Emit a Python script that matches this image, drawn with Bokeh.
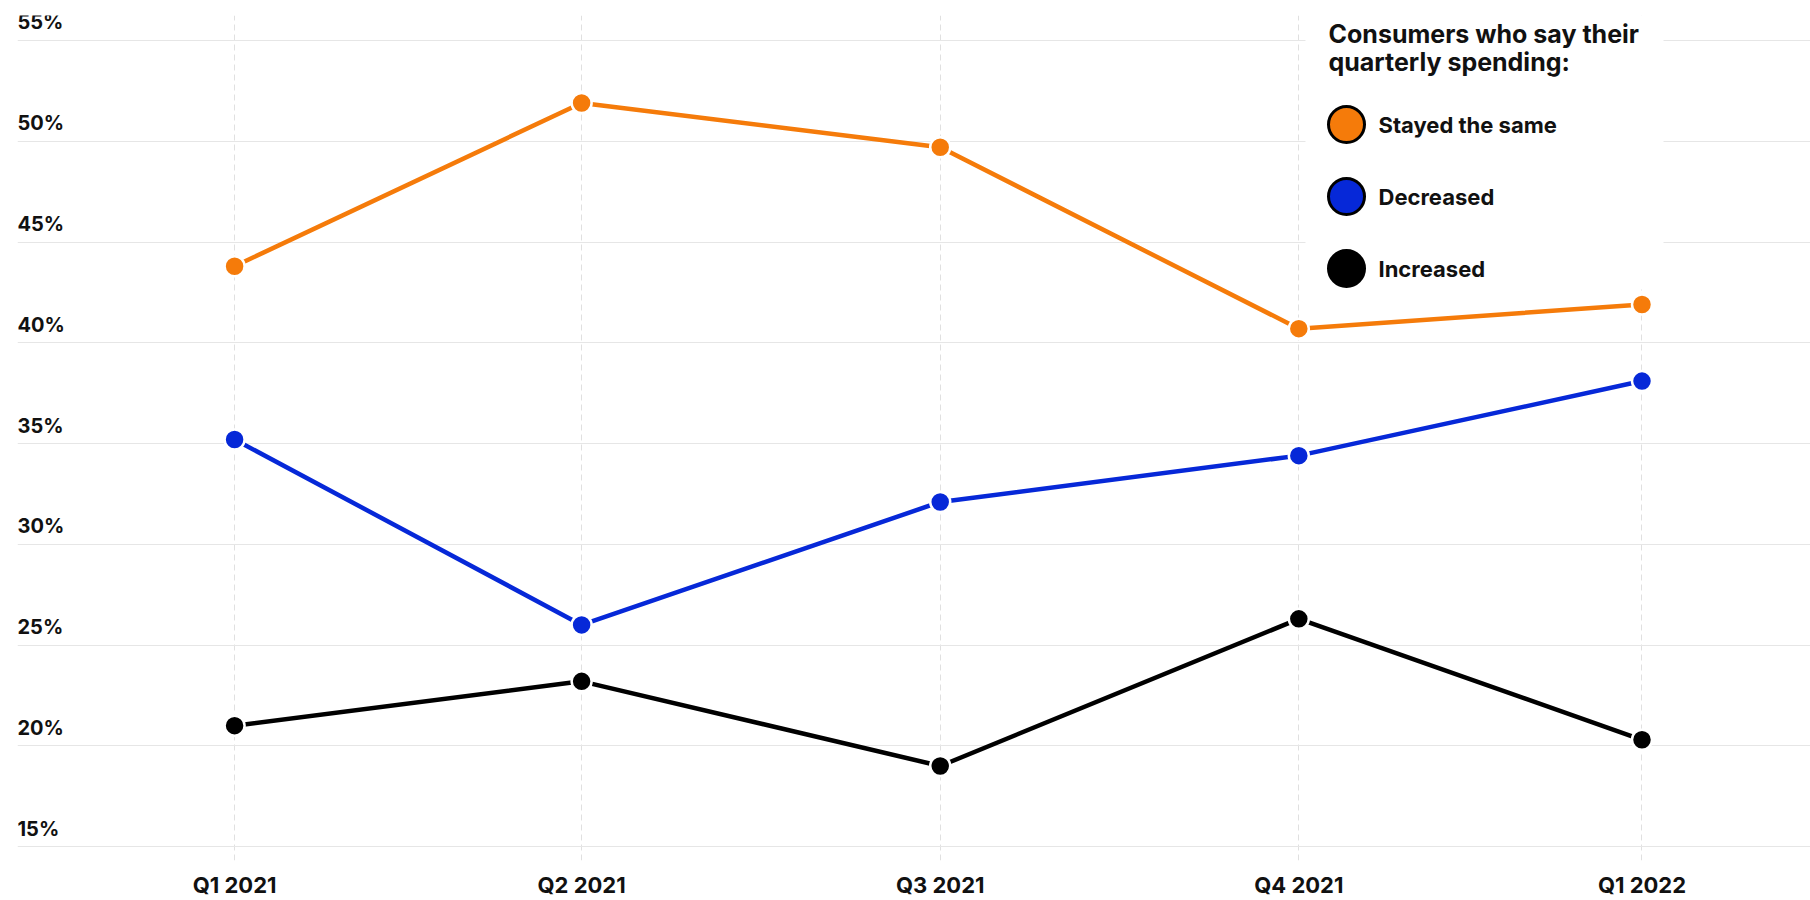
import math
import pandas as pd
from bokeh.plotting import figure
from bokeh.models import (ColumnDataSource, Range1d, FixedTicker, LabelSet, Label,
                          Legend, LegendItem, BoxAnnotation)
from bokeh.core.properties import value
from bokeh.embed import file_html
from bokeh.resources import INLINE

# ---------------- data ----------------
quarters = ["Q1 2021", "Q2 2021", "Q3 2021", "Q4 2021", "Q1 2022"]
survey_dates = ["2021-01-15", "2021-04-15", "2021-07-17", "2021-10-18", "2022-01-15"]
stayed_same = [43.8, 51.9, 49.7, 40.7, 41.9]
decreased = [35.2, 26.0, 32.1, 34.4, 38.1]
increased = [21.0, 23.2, 19.0, 26.3, 20.3]
y_ticks = [15, 20, 25, 30, 35, 40, 45, 50, 55]
series_names = ["Stayed the same", "Decreased", "Increased"]
series_colors = ["#F57B0A", "#0628D8", "#000000"]
legend_title = ["Consumers who say their", "quarterly spending:"]

FONT = "Inter"
TEXT = "#111111"
DAY = 86400000.0
x_ms = [float(v) for v in (pd.to_datetime(survey_dates).astype("int64") // 10**6)]

source = ColumnDataSource(dict(x=x_ms, stayed=stayed_same, decreased=decreased, increased=increased))
series_fields = ["stayed", "decreased", "increased"]

p = figure(width=1810, height=900, output_backend="svg", toolbar_location=None,
           x_range=Range1d(x_ms[0] - 56.3 * DAY, x_ms[-1] + 43.7 * DAY),
           y_range=Range1d(14.31, 56.24),
           min_border_left=17, min_border_right=0, min_border_top=15, min_border_bottom=39)
p.outline_line_color = None
p.background_fill_color = "white"
p.border_fill_color = "white"

# axes
p.yaxis.visible = False
p.xaxis.ticker = FixedTicker(ticks=x_ms)
p.xaxis.major_label_overrides = {x: q for x, q in zip(x_ms, quarters)}
p.xaxis.axis_line_color = None
p.xaxis.major_tick_line_color = None
p.xaxis.minor_tick_line_color = None
p.xaxis.major_label_standoff = 5
p.xaxis.major_label_text_font = FONT
p.xaxis.major_label_text_font_style = "bold"
p.xaxis.major_label_text_font_size = "22px"
p.xaxis.major_label_text_color = TEXT

# grids
p.ygrid.ticker = FixedTicker(ticks=y_ticks)
p.ygrid.grid_line_color = "#e6e6e6"
p.ygrid.grid_line_width = 1
p.xgrid.ticker = FixedTicker(ticks=x_ms)
p.xgrid.grid_line_color = "#e0e0e0"
p.xgrid.grid_line_dash = "6 4"
p.xgrid.grid_line_width = 1

# y tick labels drawn above the grid lines
ylab_src = ColumnDataSource(dict(y=y_ticks, label=[f"{t}%" for t in y_ticks]))
p.add_layout(LabelSet(x=0, x_units="screen", y="y", text="label", source=ylab_src,
                      y_offset=11, text_baseline="alphabetic", text_align="left",
                      text_font=value(FONT), text_font_style="bold",
                      text_font_size="20px", text_color=TEXT))

# white box behind legend
p.add_layout(BoxAnnotation(left=1288, right=1646, top=900, bottom=571,
                           left_units="screen", right_units="screen",
                           top_units="screen", bottom_units="screen",
                           fill_color="white", fill_alpha=1.0, line_color=None,
                           level="underlay"))

# series
for f, c in zip(series_fields, series_colors):
    p.line(x="x", y=f, source=source, line_color=c, line_width=4.5)
    p.scatter(x="x", y=f, source=source, size=20, fill_color=c,
              line_color="white", line_width=2.5)

# legend: one single-item legend per series (dummy renderers with black outlines)
for i, (name, c) in enumerate(zip(series_names, series_colors)):
    r = p.scatter(x=[math.nan], y=[math.nan], size=1, fill_color=c,
                  line_color="black", line_width=3)
    lg = Legend(items=[LegendItem(label=" ", renderers=[r])],
                location=(1284, 691 - 72 * i), orientation="vertical",
                glyph_width=90, glyph_height=90, spacing=0, label_standoff=0,
                padding=0, margin=0, background_fill_alpha=0.0, border_line_color=None,
                label_text_font_size="10px", label_width=1, label_height=1)
    p.add_layout(lg)
    p.add_layout(Label(x=1361, y=736 - 72 * i, x_units="screen", y_units="screen",
                       text=name, text_baseline="middle", text_align="left",
                       text_font=FONT, text_font_style="bold",
                       text_font_size="22px", text_color=TEXT))

for txt, yy in zip(legend_title, [827, 799]):
    p.add_layout(Label(x=1311, y=yy, x_units="screen", y_units="screen", text=txt,
                       text_baseline="alphabetic", text_align="left",
                       text_font=FONT, text_font_style="bold",
                       text_font_size="25px", text_color=TEXT))

open("out.html", "w").write(file_html(p, INLINE))
